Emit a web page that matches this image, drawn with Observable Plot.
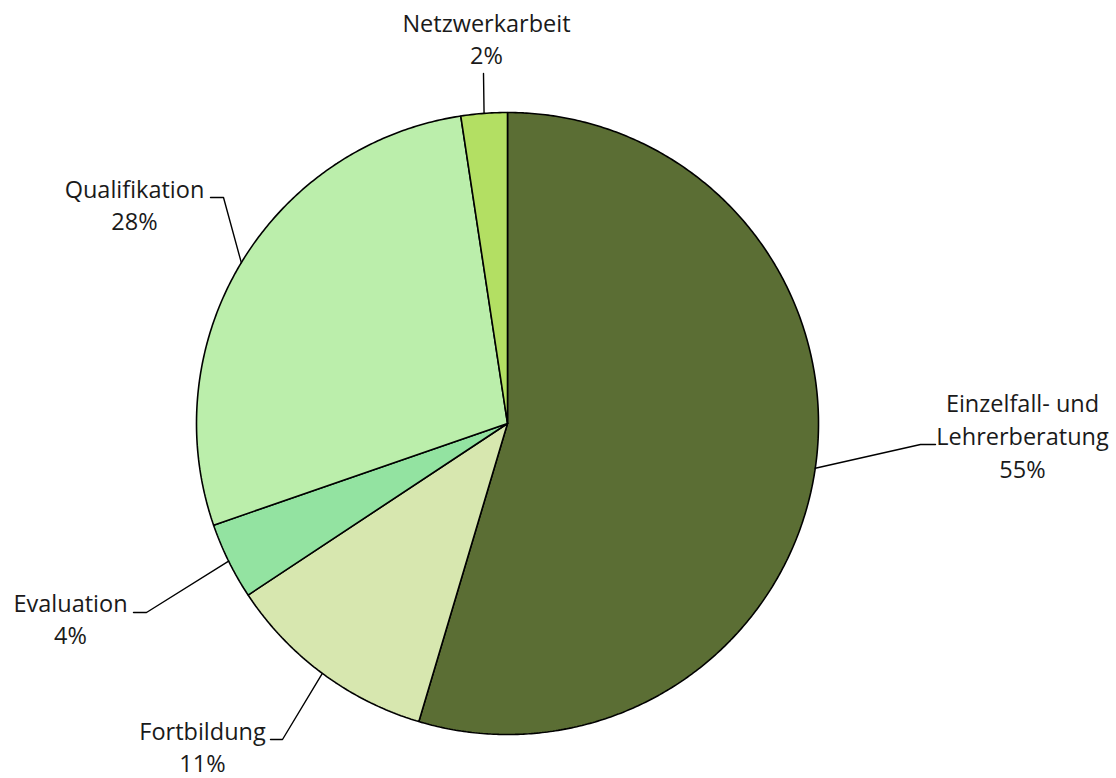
<!DOCTYPE html>
<html>
<head>
<meta charset="utf-8">
<script src="https://cdn.jsdelivr.net/npm/d3@7"></script>
<script src="https://cdn.jsdelivr.net/npm/@observablehq/plot@0.6"></script>
<style>
  html, body { margin: 0; padding: 0; background: #fff; }
  #chart { width: 1116px; height: 778px; }
</style>
</head>
<body>
<div id="chart"></div>
<script>
// ---- data (clockwise from 12 o'clock) ----
const categories = ["Einzelfall- und\nLehrerberatung", "Fortbildung", "Evaluation", "Qualifikation", "Netzwerkarbeit"];
const shares = [54.6, 11.1, 4.0, 27.9, 2.4];
const percentLabels = ["55%", "11%", "4%", "28%", "2%"];
const colors = ["#5b6e34", "#d7e7af", "#93e3a1", "#bbeeab", "#b3df63"];

// ---- layout ----
const W = 1116, H = 778;
const cx = 507, cy = 423, r = 311;
// label block centre and leader elbow points (annotation layout)
const labelX = [1022, 202, 70, 134, 486];
const labelY = [434, 745, 617, 203, 37];
const leaderEnds = [
  [[935, 444], [920, 444]],
  [[270, 739], [282, 739]],
  [[133, 612], [146, 612]],
  [[210, 197], [223, 197]],
  [[483, 73]]
];

const total = d3.sum(shares);
let acc = 0;
const slices = shares.map((v, i) => {
  const a0 = acc / total * 2 * Math.PI;
  acc += v;
  const a1 = acc / total * 2 * Math.PI;
  return {i, a0, a1, mid: (a0 + a1) / 2};
});
const pt = (a, rad) => [cx + rad * Math.sin(a), cy - rad * Math.cos(a)];

const sliceMarks = slices.map(s => {
  const n = Math.max(4, Math.ceil((s.a1 - s.a0) / (Math.PI / 360)));
  const pts = [[cx, cy]];
  for (let k = 0; k <= n; k++) pts.push(pt(s.a0 + (s.a1 - s.a0) * k / n, r));
  pts.push([cx, cy]);
  return Plot.line(pts, {x: d => d[0], y: d => d[1], fill: colors[s.i], stroke: "#000", strokeWidth: 1.6, strokeLinejoin: "miter", curve: "linear"});
});

const leaderData = [];
slices.forEach(s => {
  const p = pt(s.mid, r);
  leaderData.push({k: s.i, x: p[0], y: p[1]});
  leaderEnds[s.i].slice().reverse().forEach(q => leaderData.push({k: s.i, x: q[0], y: q[1]}));
});

const labels = categories.map((c, i) => ({text: c + "\n" + percentLabels[i], x: labelX[i], y: labelY[i]}));

const chart = Plot.plot({
  width: W, height: H,
  margin: 0,
  x: {domain: [0, W], range: [0, W], axis: null},
  y: {domain: [0, H], range: [0, H], axis: null},
  style: {fontFamily: "'Open Sans', sans-serif", background: "#fff", overflow: "visible"},
  marks: [
    ...sliceMarks,
    Plot.line(leaderData, {x: "x", y: "y", z: "k", stroke: "#000", strokeWidth: 1.4, curve: "linear"}),
    Plot.text(labels, {x: "x", y: "y", text: "text", fontSize: 23.5, lineHeight: 1.4, textAnchor: "middle", lineAnchor: "middle", fill: "#1a1a1a"})
  ]
});
document.getElementById("chart").appendChild(chart);
</script>
</body>
</html>
